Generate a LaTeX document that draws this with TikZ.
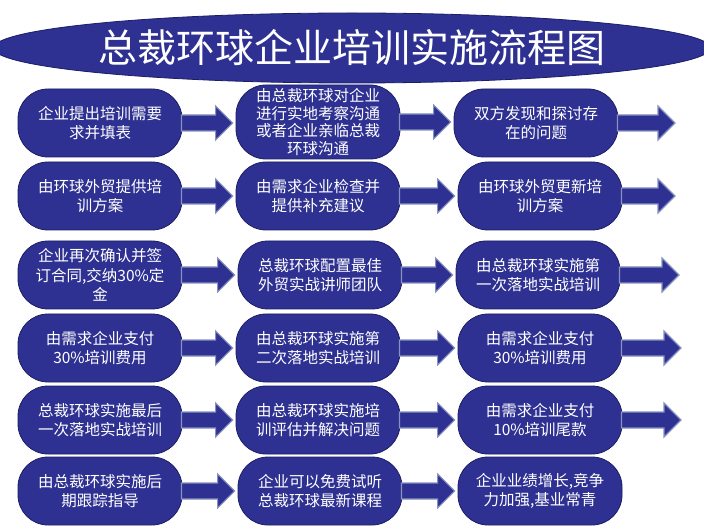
\documentclass[tikz,border=0pt]{standalone}
\usepackage{fontspec}
\setmainfont{Noto Sans CJK SC}
\usetikzlibrary{shapes.geometric,calc}
\definecolor{boxblue}{RGB}{46,49,146}
\definecolor{boxedge}{RGB}{28,30,100}
\definecolor{arrowedge}{RGB}{135,145,190}
\begin{document}
\begin{tikzpicture}[x=1pt,y=-1pt,
  stepbox/.style={draw=boxedge, line width=0.8pt, fill=boxblue, rounded corners=30pt,
    minimum width=164pt, minimum height=68pt, inner sep=0pt, text=white, align=center,
    font=\fontsize{15.5}{19.5}\selectfont},
  blockarrow/.style={fill=boxblue, draw=arrowedge, line width=1.2pt,
    to path={let \p1=(\tikztostart), \p2=(\tikztotarget) in
      (\x1-1pt,\y1+8pt) -- (\x2-20pt,\y1+8pt) -- (\x2-20pt,\y1+17pt) -- (\x2-3pt,\y1)
      -- (\x2-20pt,\y1-17pt) -- (\x2-20pt,\y1-8pt) -- (\x1-1pt,\y1-8pt) -- cycle}}]
\useasboundingbox (0,0) rectangle (704,529);
\fill[white] (0,0) rectangle (704,529);

\node[ellipse, fill=boxblue, draw=boxedge, line width=0.8pt, minimum width=684pt, minimum height=70pt,
  inner sep=0pt, text=white, font=\fontsize{39}{39}\selectfont] (title) at (352,48) {总裁环球企业培训实施流程图};

% row 1
\node[stepbox] (a1) at (100,123) {企业提出培训需要\\求并填表};
\node[stepbox, minimum height=74pt, font=\fontsize{15.5}{17.7}\selectfont] (b1) at (318,122) {由总裁环球对企业\\进行实地考察沟通\\或者企业亲临总裁\\环球沟通};
\node[stepbox] (c1) at (536,123) {双方发现和探讨存\\在的问题};
\coordinate (e1) at (678,123);
% row 2
\node[stepbox] (a2) at (100,196) {由环球外贸提供培\\训方案};
\node[stepbox] (b2) at (318,196) {由需求企业检查并\\提供补充建议};
\node[stepbox] (c2) at (540,196) {由环球外贸更新培\\训方案};
\coordinate (e2) at (678,196);
% row 3
\node[stepbox] (a3) at (100,275) {企业再次确认并签\\订合同,交纳30\%定\\金};
\node[stepbox] (b3) at (320,275) {总裁环球配置最佳\\外贸实战讲师团队};
\node[stepbox] (c3) at (538,275) {由总裁环球实施第\\一次落地实战培训};
\coordinate (e3) at (682,275);
% row 4
\node[stepbox] (a4) at (100,348) {由需求企业支付\\30\%培训费用};
\node[stepbox] (b4) at (318,348) {由总裁环球实施第\\二次落地实战培训};
\node[stepbox] (c4) at (540,348) {由需求企业支付\\30\%培训费用};
\coordinate (e4) at (684,348);
% row 5
\node[stepbox] (a5) at (100,420) {总裁环球实施最后\\一次落地实战培训};
\node[stepbox] (b5) at (318,420) {由总裁环球实施培\\训评估并解决问题};
\node[stepbox] (c5) at (540,420) {由需求企业支付\\10\%培训尾款};
\coordinate (e5) at (684,420);
% row 6
\node[stepbox] (a6) at (100,491) {由总裁环球实施后\\期跟踪指导};
\node[stepbox] (b6) at (320,491) {企业可以免费试听\\总裁环球最新课程};
\node[stepbox] (c6) at (540,491) {企业业绩增长,竞争\\力加强,基业常青};

% arrows
\foreach \r in {1,...,5}{
  \draw[blockarrow] (a\r.east) to (b\r.west);
  \draw[blockarrow] (b\r.east) to (c\r.west);
  \draw[blockarrow] (c\r.east) to (e\r);
}
\draw[blockarrow] (a6.east) to (b6.west);
\draw[blockarrow] (b6.east) to (c6.west);
\end{tikzpicture}
\end{document}
